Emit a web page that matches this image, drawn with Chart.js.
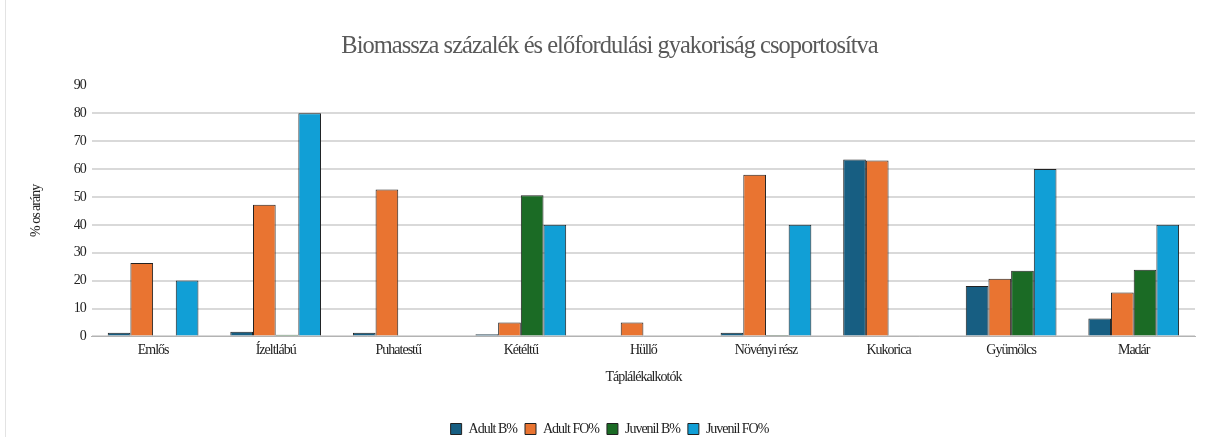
<!DOCTYPE html>
<html><head><meta charset="utf-8">
<script src="https://cdn.jsdelivr.net/npm/chart.js@4/dist/chart.umd.min.js"></script>
<style>html,body{margin:0;padding:0;background:#fff;}#wrap{width:1215px;height:437px;position:relative;}</style>
</head><body><div id="wrap"><canvas id="c" width="1215" height="437"></canvas></div>
<script>
const categories = ["Emlős","Ízeltlábú","Puhatestű","Kétéltű","Hüllő","Növényi rész","Kukorica","Gyümölcs","Madár"];
const adultB = [1.3, 1.7, 1.3, 0.8, 0, 1.3, 63.4, 18.1, 6.4];
const adultFO = [26.3, 47.2, 52.7, 5.0, 5.0, 58.0, 63.1, 20.7, 15.7];
const juvenilB = [0, 0.6, 0, 50.6, 0, 0.5, 0, 23.5, 23.9];
const juvenilFO = [20, 80, 0, 40, 0, 40, 0, 60, 40];
const seriesNames = ["Adult B%","Adult FO%","Juvenil B%","Juvenil FO%"];
const colors = ["#175e82","#e97431","#1b6b25","#119fd6"];
const yTicks = [0,10,20,30,40,50,60,70,80,90];

const FONT = "'Liberation Serif', serif";
const data = {
  labels: categories,
  datasets: [adultB, adultFO, juvenilB, juvenilFO].map((d,i)=>({
    label: seriesNames[i], data: d, backgroundColor: colors[i],
    borderColor: "#222", borderWidth: 1, borderSkipped: 'bottom',
    categoryPercentage: 0.74, barPercentage: 1.0
  }))
};
const frame = {
  id: 'frame',
  beforeUpdate(chart){ chart.ctx.letterSpacing = '-1px'; },
  beforeDraw(chart){
    const ctx = chart.ctx;
    ctx.letterSpacing = '-1px';
    ctx.save();
    ctx.fillStyle = '#fff';
    ctx.fillRect(0,0,chart.width,chart.height);
    ctx.strokeStyle = '#e3e3e3'; ctx.lineWidth = 1;
    ctx.beginPath(); ctx.moveTo(5.5,0); ctx.lineTo(5.5,chart.height); ctx.stroke();
    ctx.restore();
  }
};
new Chart(document.getElementById('c'), {
  type: 'bar',
  data,
  plugins: [frame],
  options: {
    responsive: false, animation: false,
    layout: { padding: { left: 24, right: 20, top: 6, bottom: -9 } },
    plugins: {
      title: { display: true, text: "Biomassza százalék és előfordulási gyakoriság csoportosítva",
        color: '#595959', font: { family: FONT, size: 24.5, weight: 'normal' }, padding: { top: 26, bottom: 24 } },
      legend: { position: 'bottom', labels: { color: '#222', boxWidth: 11, boxHeight: 11, padding: 8,
        font: { family: FONT, size: 14 } } },
      tooltip: { enabled: false }
    },
    scales: {
      x: {
        grid: { display: false, drawTicks: false },
        border: { color: '#b3b3b3', width: 1 },
        ticks: { color: '#222', font: { family: FONT, size: 14 }, padding: 6 },
        title: { display: true, text: 'Táplálékalkotók', color: '#222', font: { family: FONT, size: 14 }, padding: { top: 4, bottom: 28 } }
      },
      y: {
        min: 0, max: 90,
        afterBuildTicks(s){ s.ticks = yTicks.map(v=>({value:v})); },
        grid: { color: c => (c.tick && c.tick.value === 90) ? 'rgba(0,0,0,0)' : '#d9d9d9', lineWidth: 2, drawTicks: false },
        border: { display: false },
        ticks: { color: '#222', font: { family: FONT, size: 14 }, padding: 6 },
        title: { display: true, text: '% os arány', color: '#222', font: { family: FONT, size: 14 }, padding: { bottom: 23 } }
      }
    }
  }
});
</script></body></html>
